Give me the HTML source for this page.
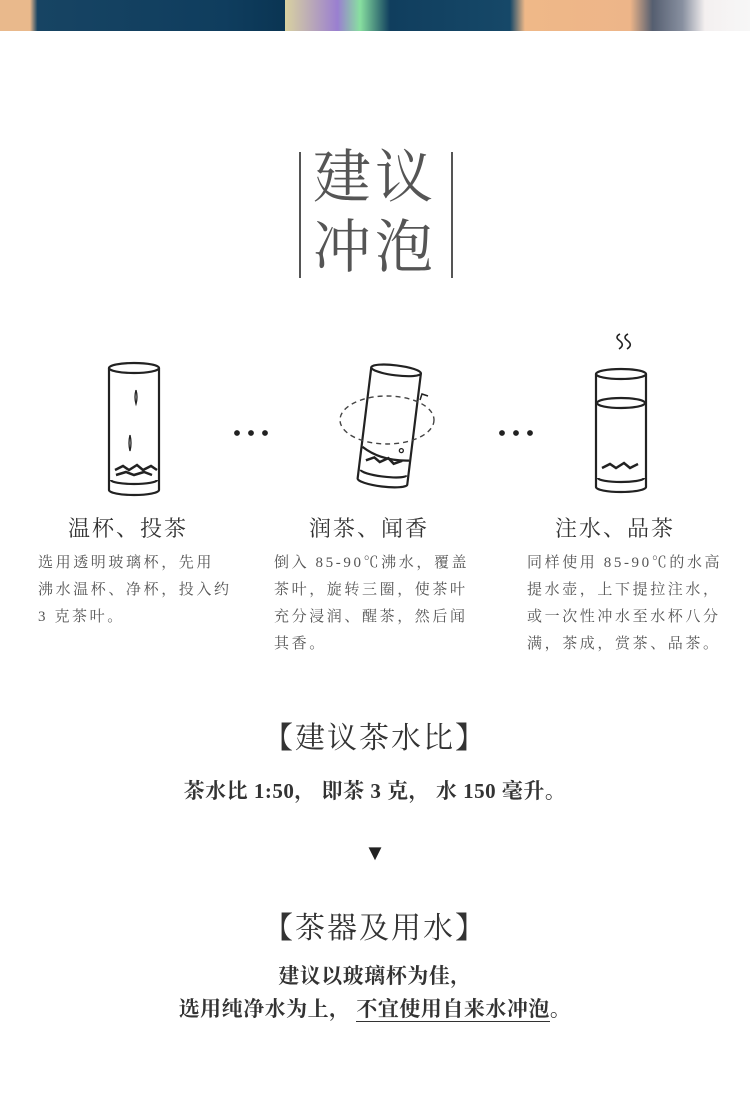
<!DOCTYPE html>
<html><head><meta charset="utf-8"><style>
body{margin:0;width:750px;height:1116px;background:#fff;position:relative;overflow:hidden;font-family:"Liberation Serif","Noto Serif CJK SC",serif;color:#444}
.a{position:absolute}
.h{font-size:22px;color:#333;letter-spacing:2px}
.p{font-size:15px;line-height:27px;color:#555;letter-spacing:2.6px;white-space:nowrap}
.c{left:0;width:750px;text-align:center}
</style></head><body>
<div class="a" style="left:0;top:0;width:750px;height:31px;background:linear-gradient(90deg,#e9b98c 0,#e9b98c 4%,#174463 5%,#0f3d5e 30%,#0a3553 38%,#d9d2a0 38%,#9a7fd0 45%,#88e0a0 48%,#103e5e 52%,#164868 68%,#efb888 70%,#edb589 84%,#555e70 87%,#8890a0 91%,#f4f0f0 94%,#f7f7f7 100%)"></div>
<div class="a" style="left:299px;top:152px;width:2px;height:126px;background:#555"></div>
<div class="a" style="left:451px;top:152px;width:2px;height:126px;background:#555"></div>
<div class="a" style="left:313px;top:143px;font-size:58px;line-height:70px;color:#555;letter-spacing:4px">建议<br>冲泡</div>
<svg class="a" style="left:0;top:320px" width="750" height="190" fill="none" stroke="#222" stroke-width="2.2">
<g transform="translate(0,-320)">
<ellipse cx="134" cy="368" rx="25" ry="5"/>
<path d="M109 368V490a25 5 0 0 0 50 0V368"/>
<path d="M111 480a23 4 0 0 0 46 0"/>
<path d="M115 470l8-4 6 4 8-5 6 5 8-4 6 4M116 475l10-3 8 3 10-3 8 3" stroke-width="2.5"/>
<path d="M136 390q2 7 0 14q-2-7 0-14M130 435q2 8 0 16q-2-8 0-16" stroke-width="1.3"/>
<circle cx="237" cy="433" r="1.8" fill="#222"/><circle cx="251" cy="433" r="1.8" fill="#222"/><circle cx="265" cy="433" r="1.8" fill="#222"/>
<circle cx="502" cy="433" r="1.8" fill="#222"/><circle cx="516" cy="433" r="1.8" fill="#222"/><circle cx="530" cy="433" r="1.8" fill="#222"/>
<g transform="rotate(7 390 420)">
<ellipse cx="390" cy="370" rx="25" ry="5"/>
<path d="M365 370V482a25 5 0 0 0 50 0V370"/>
<path d="M367 473a23 4 0 0 0 46 0"/>
<path d="M366 450q20 12 48 8"/>
<path d="M371 463l8-4 6 4 8-5 6 5 8-4" stroke-width="2.5"/>
<circle cx="405" cy="449" r="2" stroke-width="1.3"/>
</g>
<ellipse cx="387" cy="420" rx="47" ry="24" stroke-dasharray="5 4" stroke-width="1.4" stroke="#444"/>
<path d="M420 400l2-6 6 2" stroke-width="1.5"/>
<ellipse cx="621" cy="374" rx="25" ry="5"/>
<path d="M596 374V487a25 5 0 0 0 50 0V374"/>
<ellipse cx="621" cy="403" rx="24" ry="5"/>
<path d="M598 478a23 4 0 0 0 46 0"/>
<path d="M602 468l8-4 6 4 8-5 6 5 8-4" stroke-width="2.5"/>
<path d="M620 334q-6 3 0 7q5 4-1 8M628 334q-6 3 0 7q5 4-1 8" stroke-width="1.6"/>
</g>
</svg>
<div class="a h" style="left:68px;top:512px">温杯、投茶</div>
<div class="a h" style="left:309px;top:512px">润茶、闻香</div>
<div class="a h" style="left:555px;top:512px">注水、品茶</div>
<div class="a p" style="left:38px;top:550px">选用透明玻璃杯，先用<br>沸水温杯、净杯，投入约<br>3 克茶叶。</div>
<div class="a p" style="left:274px;top:550px">倒入 85-90℃沸水，覆盖<br>茶叶，旋转三圈，使茶叶<br>充分浸润、醒茶，然后闻<br>其香。</div>
<div class="a p" style="left:527px;top:550px">同样使用 85-90℃的水高<br>提水壶，上下提拉注水，<br>或一次性冲水至水杯八分<br>满，茶成，赏茶、品茶。</div>
<div class="a c" style="top:713px;font-size:30px;color:#333;letter-spacing:2px">【建议茶水比】</div>
<div class="a c" style="top:775px;font-size:21px;color:#333;font-weight:bold;letter-spacing:0.5px">茶水比 1:50，  即茶 3 克，  水 150 毫升。</div>
<div class="a c" style="top:840px;font-size:22px;color:#222">▼</div>
<div class="a c" style="top:903px;font-size:30px;color:#333;letter-spacing:2px">【茶器及用水】</div>
<div class="a c" style="top:960px;font-size:21px;color:#333;line-height:33px;font-weight:bold;letter-spacing:0.5px">建议以玻璃杯为佳，<br>选用纯净水为上，  <span style="border-bottom:1px solid #333">不宜使用自来水冲泡</span>。</div>
</body></html>
